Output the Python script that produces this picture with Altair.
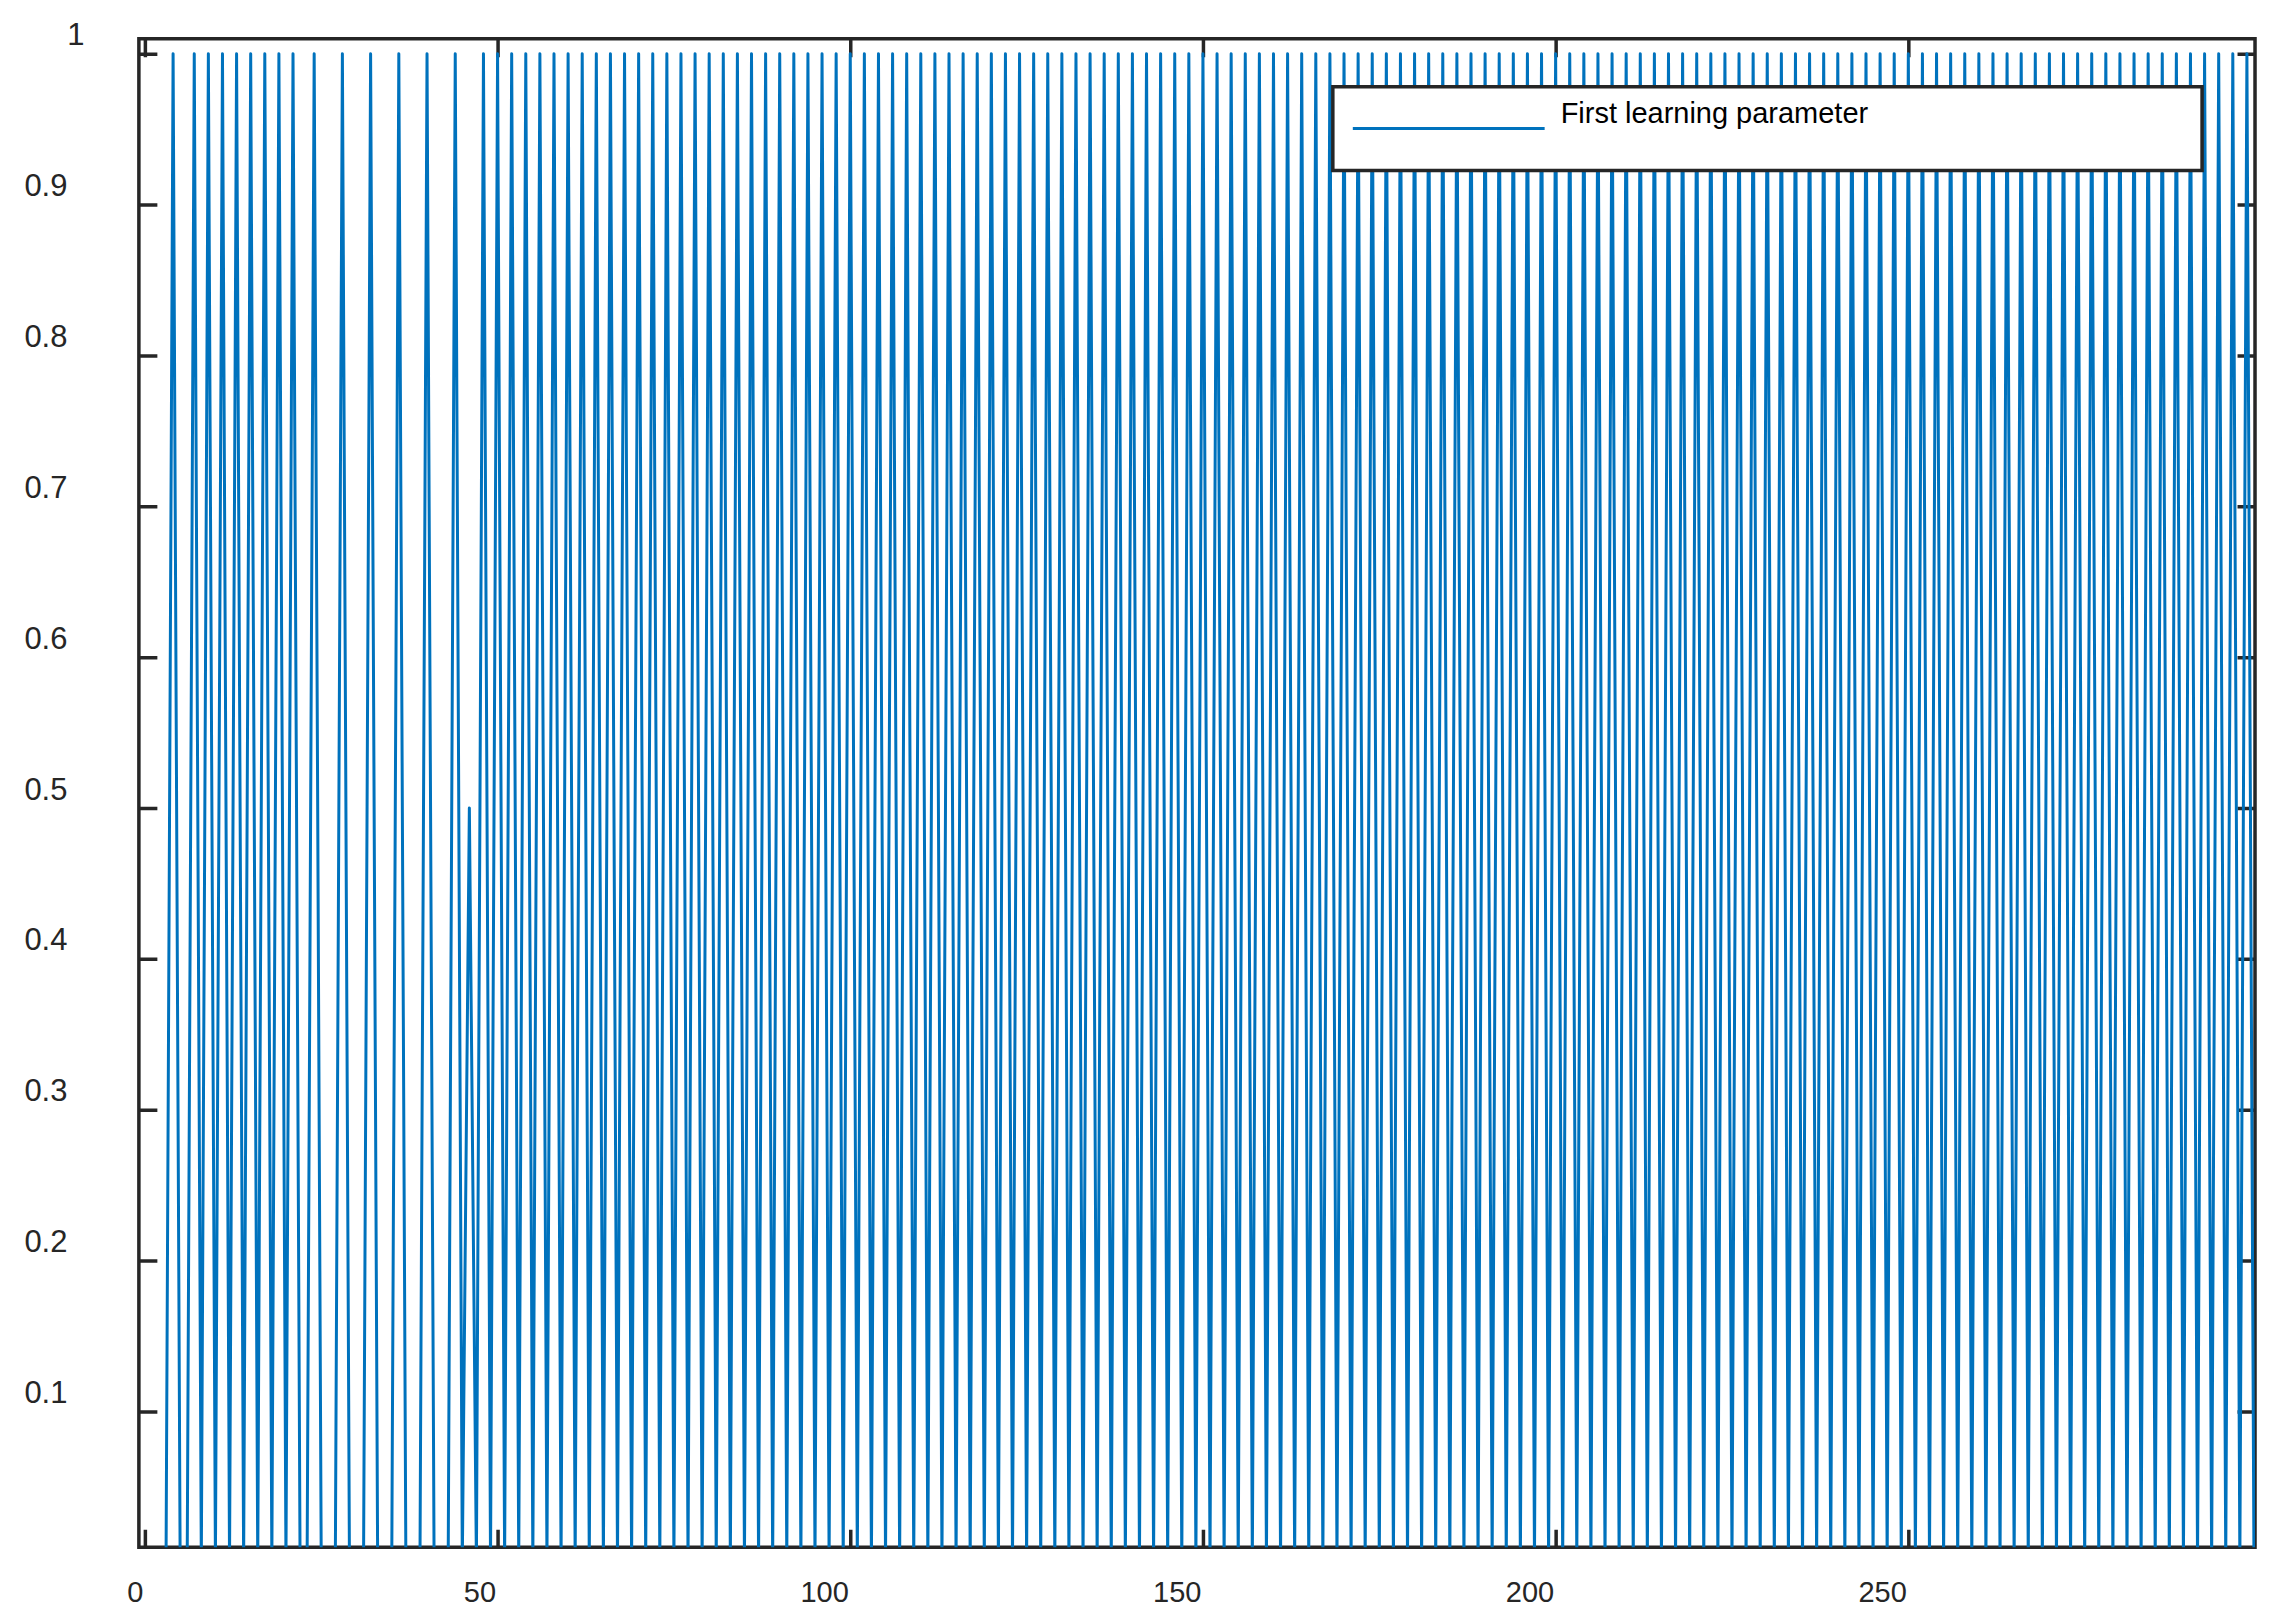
import altair as alt
import pandas as pd

# ---- data ----
SERIES = "First learning parameter"
X_IDX = list(range(300))
Y_VALS = [
    0, 0, 0, 0, 1, 0, 0, 1, 0, 1,
    0, 1, 0, 1, 0, 1, 0, 1, 0, 1,
    0, 1, 0, 0, 1, 0, 0, 0, 1, 0,
    0, 0, 1, 0, 0, 0, 1, 0, 0, 0,
    1, 0, 0, 0, 1, 0, 0.5, 0, 1, 0,
    1, 0, 1, 0, 1, 0, 1, 0, 1, 0,
    1, 0, 1, 0, 1, 0, 1, 0, 1, 0,
    1, 0, 1, 0, 1, 0, 1, 0, 1, 0,
    1, 0, 1, 0, 1, 0, 1, 0, 1, 0,
    1, 0, 1, 0, 1, 0, 1, 0, 1, 0,
    1, 0, 1, 0, 1, 0, 1, 0, 1, 0,
    1, 0, 1, 0, 1, 0, 1, 0, 1, 0,
    1, 0, 1, 0, 1, 0, 1, 0, 1, 0,
    1, 0, 1, 0, 1, 0, 1, 0, 1, 0,
    1, 0, 1, 0, 1, 0, 1, 0, 1, 0,
    1, 0, 1, 0, 1, 0, 1, 0, 1, 0,
    1, 0, 1, 0, 1, 0, 1, 0, 1, 0,
    1, 0, 1, 0, 1, 0, 1, 0, 1, 0,
    1, 0, 1, 0, 1, 0, 1, 0, 1, 0,
    1, 0, 1, 0, 1, 0, 1, 0, 1, 0,
    1, 0, 1, 0, 1, 0, 1, 0, 1, 0,
    1, 0, 1, 0, 1, 0, 1, 0, 1, 0,
    1, 0, 1, 0, 1, 0, 1, 0, 1, 0,
    1, 0, 1, 0, 1, 0, 1, 0, 1, 0,
    1, 0, 1, 0, 1, 0, 1, 0, 1, 0,
    1, 0, 1, 0, 1, 0, 1, 0, 1, 0,
    1, 0, 1, 0, 1, 0, 1, 0, 1, 0,
    1, 0, 1, 0, 1, 0, 1, 0, 1, 0,
    1, 0, 1, 0, 1, 0, 1, 0, 1, 0,
    1, 0, 1, 0, 1, 0, 1, 0, 1, 0,
]
X_TICKS = [0, 50, 100, 150, 200, 250]
Y_TICKS = [0.1, 0.2, 0.3, 0.4, 0.5, 0.6, 0.7, 0.8, 0.9, 1.0]
X_DOMAIN = [-0.85, 299.15]
Y_DOMAIN = [0.01, 1.01]

# ---- styling ----
W, H = 2118, 1510
LINE_COLOR = "#0072BD"
AX = "#262626"
FONT = "Liberation Sans"
TICK_LEN = 18

df = pd.DataFrame({"x": X_IDX, "y": Y_VALS, "series": SERIES})
legend_df = pd.DataFrame({"label": [SERIES]})

line = alt.Chart(df).mark_line(
    color=LINE_COLOR, strokeWidth=3, clip=True, strokeJoin="round"
).encode(
    x=alt.X(
        "x:Q",
        scale=alt.Scale(domain=X_DOMAIN, nice=False, zero=False),
        axis=alt.Axis(
            values=X_TICKS, title=None, grid=True,
            gridDash=[TICK_LEN, H - 2 * TICK_LEN, TICK_LEN, 0],
            gridColor=AX, gridWidth=3.5, gridOpacity=1,
            ticks=False, tickSize=0, domain=False,
            labelAlign="right", labelOffset=-2, labelBaseline="top",
            labelPadding=31, labelFont=FONT, labelFontSize=29,
            labelColor=AX, labelFlush=False, labelOverlap=False,
        ),
    ),
    y=alt.Y(
        "y:Q",
        scale=alt.Scale(domain=Y_DOMAIN, nice=False, zero=False),
        axis=alt.Axis(
            values=Y_TICKS, format="~g", title=None, grid=True,
            gridDash=[TICK_LEN, W - 2 * TICK_LEN, TICK_LEN, 0],
            gridColor=AX, gridWidth=3.5, gridOpacity=1,
            ticks=False, tickSize=0, domain=False,
            labelAlign="right", labelBaseline="middle", labelOffset=-18,
            labelPadding={"condition": {"test": "datum.value == 1", "value": 55}, "value": 72},
            labelFont=FONT, labelFontSize=31, labelColor=AX,
            labelFlush=False, labelOverlap=False,
        ),
    ),
)

box = alt.Chart(legend_df).mark_rect(fill="white", stroke=AX, strokeWidth=3.5).encode(
    x=alt.value(1195), x2=alt.value(2065), y=alt.value(48), y2=alt.value(132)
)
sym = alt.Chart(legend_df).mark_rule(color=LINE_COLOR, strokeWidth=3).encode(
    x=alt.value(1215), x2=alt.value(1407), y=alt.value(90)
)
txt = alt.Chart(legend_df).mark_text(
    align="left", baseline="middle", font=FONT, fontSize=29, color="black"
).encode(x=alt.value(1423), y=alt.value(75), text="label:N")

chart = alt.layer(line, box, sym, txt).properties(
    width=W, height=H,
    padding={"left": 131, "top": 30, "right": 20, "bottom": 70},
    autosize=alt.AutoSizeParams(type="none"),
).configure_view(stroke=AX, strokeWidth=3.5).configure_axis(zindex=0)

chart.save("out.html", embed_options={"renderer": "svg", "actions": False})
